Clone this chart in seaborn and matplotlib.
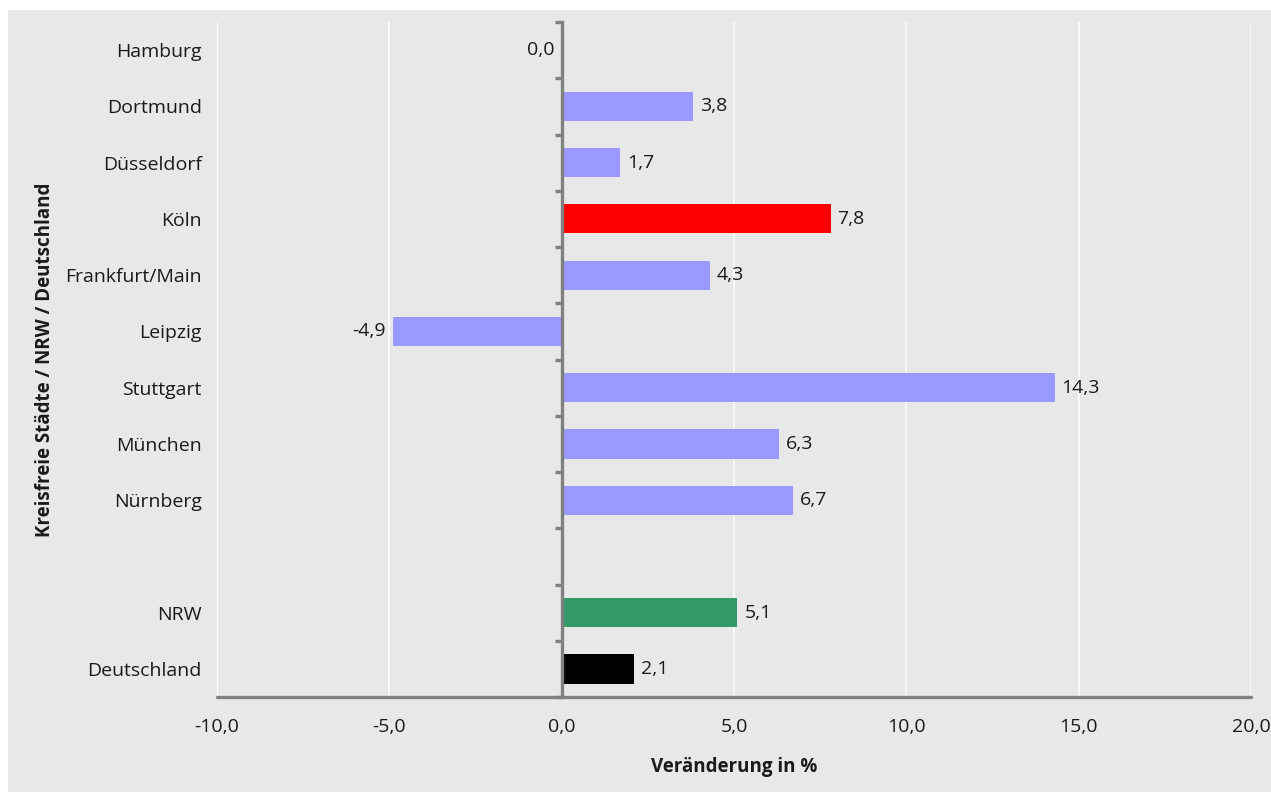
import matplotlib
matplotlib.use("Agg")
import matplotlib.pyplot as plt
import seaborn as sns
import pandas as pd
import numpy as np
from matplotlib.patches import Rectangle

categories = ["Hamburg", "Dortmund", "Düsseldorf", "Köln", "Frankfurt/Main", "Leipzig",
              "Stuttgart", "München", "Nürnberg", "", "NRW", "Deutschland"]
values = [0.0, 3.8, 1.7, 7.8, 4.3, -4.9, 14.3, 6.3, 6.7, np.nan, 5.1, 2.1]
bar_colors = ["#9999ff", "#9999ff", "#9999ff", "#ff0000", "#9999ff", "#9999ff",
              "#9999ff", "#9999ff", "#9999ff", "#9999ff", "#339966", "#000000"]
x_ticks = [-10, -5, 0, 5, 10, 15, 20]
x_label = "Veränderung in %"
y_label = "Kreisfreie Städte / NRW / Deutschland"

sns.set_theme(style="white")
plt.rcParams['font.family'] = ['Open Sans', 'DejaVu Sans']

BG = "#e8e8e8"
SPINE = "#808080"
TXT = "#1a1a1a"
FS = 14

fig = plt.figure(figsize=(12.71, 7.92), dpi=100)
fig.patch.set_facecolor("white")
fig.patches.append(Rectangle((8 / 1271, 0), 1 - 8 / 1271, 1 - 10 / 792,
                             transform=fig.transFigure, facecolor=BG,
                             edgecolor="none", zorder=-10))

ax = fig.add_axes([217 / 1271, 1 - 697 / 792, (1251 - 217) / 1271, (697 - 22) / 792])
ax.set_facecolor(BG)

df = pd.DataFrame({"label": categories, "value": values})
df_plot = df.dropna()
palette = {c: col for c, col in zip(categories, bar_colors) if c}
sns.barplot(data=df_plot, x="value", y="label", hue="label", palette=palette,
            order=categories, legend=False, width=0.52, orient="h",
            saturation=1, linewidth=0, ax=ax, zorder=3)

n = len(categories)
ax.set_ylim(n - 0.5, -0.5)
ax.set_xlim(-10, 20)
ax.set_xticks(x_ticks)
ax.set_xticklabels([f"{t:.1f}".replace(".", ",") for t in x_ticks])
ax.grid(axis="x", color="white", linewidth=1.1, zorder=0)
ax.grid(axis="y", visible=False)
ax.set_axisbelow(True)

for s in ["top", "right", "left"]:
    ax.spines[s].set_visible(False)
ax.spines["bottom"].set_color(SPINE)
ax.spines["bottom"].set_linewidth(2.4)
ax.spines["bottom"].set_capstyle("round")
ax.tick_params(axis="x", direction="out", length=5, width=2.4, color=SPINE,
               labelsize=FS, pad=10, labelcolor=TXT)
ax.tick_params(axis="y", length=0, labelsize=FS, pad=11, labelcolor=TXT)

ax.set_xlabel(x_label, fontsize=13.5, fontweight="bold", labelpad=15, color=TXT)
ax.set_ylabel(y_label, fontsize=13.5, fontweight="bold", labelpad=7, color=TXT)

# vertical zero axis with boundary ticks
ax2 = ax.twinx()
ax2.set_ylim(ax.get_ylim())
for s in ["top", "left", "bottom"]:
    ax2.spines[s].set_visible(False)
ax2.spines["right"].set_position(("data", 0))
ax2.spines["right"].set_color(SPINE)
ax2.spines["right"].set_linewidth(2.4)
ax2.set_yticks(np.arange(-0.5, n, 1.0))
ax2.tick_params(axis="y", direction="in", length=5, width=2.4, color=SPINE,
                labelright=False)
ax2.grid(False)

# value labels
for i, v in enumerate(values):
    if np.isnan(v):
        continue
    txt = f"{v:.1f}".replace(".", ",")
    if v > 0:
        ax.annotate(txt, (v, i), xytext=(5, 0), textcoords="offset points",
                    ha="left", va="center", fontsize=FS, color=TXT)
    else:
        ax.annotate(txt, (v, i), xytext=(-5, 0), textcoords="offset points",
                    ha="right", va="center", fontsize=FS, color=TXT)

fig.savefig("out.png", dpi=100, facecolor=fig.get_facecolor())
